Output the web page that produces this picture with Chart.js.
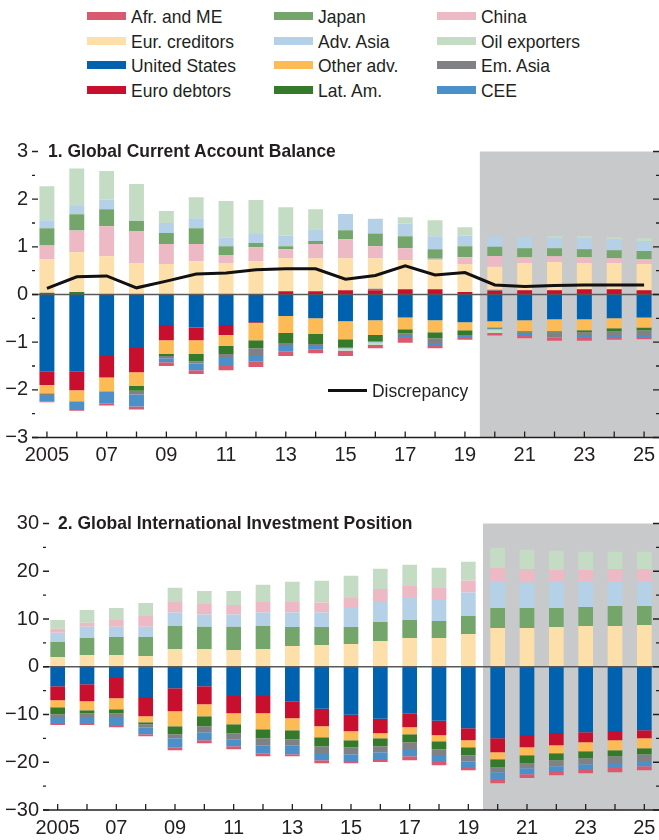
<!DOCTYPE html>
<html>
<head>
<meta charset="utf-8">
<script src="https://cdn.jsdelivr.net/npm/chart.js@4.4.1/dist/chart.umd.min.js"></script>
<style>
html, body { margin: 0; padding: 0; background: #fff; overflow: hidden; }
#page { position: relative; width: 659px; height: 840px; color: #231f20;
  font-family: "Liberation Sans", Arial, sans-serif; }
.item { position: absolute; z-index: 2; font-size: 19px; line-height: 22px; white-space: nowrap;
  transform: scaleX(0.92); transform-origin: 0 50%; }
.sw { position: absolute; z-index: 2; width: 39px; height: 8px; }
.title { position: absolute; z-index: 2; font-weight: bold; font-size: 19px; line-height: 22px; white-space: nowrap;
  transform: scaleX(0.92); transform-origin: 0 50%; }
canvas { position: absolute; left: 0; z-index: 1; }
</style>
</head>
<body>
<div id="page">
  <div id="legend"></div>
  <div class="title" style="left:48px; top:140px;">1. Global Current Account Balance</div>
  <div class="sw" style="left:328px; top:389px; width:39px; height:3px; background:#111;"></div>
  <div class="item" style="left:372px; top:380px;">Discrepancy</div>
  <div class="title" style="left:58px; top:512px;">2. Global International Investment Position</div>
  <canvas id="caChart" width="659" height="375" style="top:110px"></canvas>
  <canvas id="iipChart" width="659" height="355" style="top:485px"></canvas>
</div>
<script>
var years = ['2005','2006','2007','2008','2009','2010','2011','2012','2013','2014','2015',
             '2016','2017','2018','2019','2020','2021','2022','2023','2024','2025'];
var tickLabels = ['2005','','07','','09','','11','','13','','15','','17','','19','','21','','23','','25'];

var legendOrder = ['Afr. and ME','Japan','China',
                   'Eur. creditors','Adv. Asia','Oil exporters',
                   'United States','Other adv.','Em. Asia',
                   'Euro debtors','Lat. Am.','CEE'];

var colors = {
    'Afr. and ME': '#d95a6e',
    'Japan': '#74a56b',
    'China': '#ecb9c4',
    'Eur. creditors': '#fddfaa',
    'Adv. Asia': '#b5d1e8',
    'Oil exporters': '#c5dcc4',
    'United States': '#0061ae',
    'Other adv.': '#fdbb55',
    'Em. Asia': '#808184',
    'Euro debtors': '#c8102e',
    'Lat. Am.': '#357a2b',
    'CEE': '#4b90c8'
};

// 1. current account, percent of world GDP
var usCA        = [-1.61,-1.61,-1.29,-1.12,-0.64,-0.69,-0.64,-0.58,-0.45,-0.50,-0.56,-0.54,-0.48,-0.54,-0.58,-0.56,-0.54,-0.52,-0.52,-0.50,-0.48];
var euroDebtCA  = [-0.29,-0.40,-0.45,-0.51,-0.32,-0.27,-0.21,-0.02,0.07,0.07,0.09,0.09,0.11,0.11,0.05,0.08,0.09,0.09,0.11,0.11,0.09];
var otherAdvCA  = [-0.17,-0.23,-0.29,-0.29,-0.29,-0.29,-0.23,-0.36,-0.36,-0.33,-0.38,-0.31,-0.25,-0.25,-0.17,-0.13,-0.23,-0.25,-0.23,-0.21,-0.21];
var latAmCA     = [0.035,0.055,0,-0.10,-0.04,-0.15,-0.17,-0.17,-0.21,-0.21,-0.16,-0.13,-0.09,-0.13,-0.10,-0.02,-0.02,-0.02,-0.04,-0.06,-0.06];
var emAsiaCA    = [-0.04,0,0,-0.08,-0.05,-0.05,-0.06,-0.14,-0.06,-0.02,0,0.03,-0.05,-0.10,-0.02,0.02,-0.04,-0.11,-0.08,-0.10,-0.12];
var ceeCA       = [-0.13,-0.16,-0.26,-0.25,-0.08,-0.14,-0.19,-0.13,-0.11,-0.09,-0.03,-0.02,-0.04,-0.04,-0.02,-0.02,-0.04,-0.01,-0.04,-0.04,-0.02];
var eurCredCA   = [0.705,0.83,0.80,0.66,0.64,0.70,0.66,0.70,0.69,0.69,0.67,0.64,0.61,0.61,0.59,0.48,0.57,0.59,0.55,0.55,0.55];
var chinaCA     = [0.29,0.46,0.63,0.67,0.42,0.36,0.17,0.29,0.19,0.30,0.40,0.25,0.25,0.03,0.14,0.23,0.12,0.12,0.12,0.10,0.10];
var japanCA     = [0.36,0.34,0.36,0.21,0.23,0.33,0.18,0.09,0.06,0.06,0.19,0.27,0.25,0.20,0.23,0.19,0.19,0.17,0.17,0.17,0.17];
var advAsiaCA   = [0.17,0.17,0.20,0,0.21,0.21,0.18,0.19,0.23,0.25,0.34,0.31,0.27,0.27,0.23,0.21,0.23,0.21,0.23,0.23,0.21];
var oilCA       = [0.71,0.79,0.60,0.78,0.25,0.44,0.77,0.71,0.59,0.42,-0.05,-0.06,0.13,0.34,0.17,-0.08,0,0.04,0.04,0.04,0.06];
var afrMECA     = [-0.02,-0.04,-0.04,-0.06,-0.08,-0.08,-0.09,-0.12,-0.10,-0.08,-0.11,-0.07,-0.10,-0.07,-0.06,-0.05,-0.05,-0.06,-0.06,-0.04,-0.05];
var discrepancy = [0.13,0.37,0.39,0.14,0.28,0.43,0.45,0.52,0.54,0.54,0.32,0.40,0.60,0.41,0.46,0.20,0.17,0.19,0.20,0.20,0.20];

// 2. international investment position, percent of world GDP
var usIIP       = [-4.06,-3.64,-2.38,-6.36,-4.48,-4.06,-6.15,-6.15,-7.20,-8.81,-10.07,-10.91,-9.72,-11.33,-12.87,-14.97,-14.27,-13.85,-13.71,-13.43,-13.29];
var euroDebtIIP = [-2.94,-3.57,-4.20,-3.99,-4.83,-3.78,-3.57,-3.57,-3.57,-3.64,-3.43,-3.01,-2.94,-3.01,-2.52,-2.94,-2.59,-2.59,-2.10,-1.96,-1.68];
var otherAdvIIP = [-1.47,-1.89,-2.31,-1.26,-3.15,-2.52,-2.31,-3.36,-2.52,-2.31,-1.89,-1.05,-1.47,-1.26,-1.47,-1.47,-1.68,-1.68,-1.89,-2.10,-2.10];
var latAmIIP    = [-1.47,-0.63,-0.84,-0.42,-1.68,-2.10,-1.89,-1.89,-1.89,-1.89,-1.47,-1.68,-1.68,-1.68,-1.68,-1.68,-1.68,-1.47,-1.47,-1.26,-1.26];
var emAsiaIIP   = [-0.56,-0.77,-0.77,-0.63,-0.84,-1.26,-1.26,-1.47,-1.26,-1.40,-1.47,-1.26,-1.40,-1.19,-1.26,-1.05,-1.05,-1.26,-1.26,-1.40,-1.40];
var ceeIIP      = [-1.26,-1.26,-1.68,-1.47,-1.89,-1.68,-1.47,-1.68,-1.89,-1.54,-1.40,-1.40,-1.54,-1.26,-1.19,-1.40,-1.26,-0.98,-0.98,-0.84,-1.12];
var afrMEIIP    = [-0.42,-0.42,-0.49,-0.42,-0.63,-0.63,-0.63,-0.63,-0.42,-0.63,-0.49,-0.63,-0.84,-0.91,-0.70,-0.91,-0.77,-0.91,-0.91,-1.12,-0.84];
var eurCredIIP  = [2.03,2.45,2.45,2.24,3.71,3.71,3.50,3.71,4.34,4.55,4.76,5.38,6.01,6.01,6.85,8.11,8.11,8.32,8.53,8.53,8.74];
var japanIIP    = [3.15,3.57,3.78,3.99,4.83,4.69,4.90,4.83,3.99,3.78,3.57,3.99,3.78,3.57,3.78,4.20,4.20,3.99,3.99,4.20,3.99];
var advAsiaIIP  = [1.96,2.38,2.17,2.17,2.80,2.52,2.52,2.80,3.01,3.01,3.99,4.20,4.62,4.41,4.90,5.45,5.31,5.45,5.24,5.03,5.24];
var chinaIIP    = [0.84,0.84,1.40,2.24,2.24,2.24,2.03,2.24,2.24,2.10,2.10,2.73,2.52,2.52,2.52,2.94,2.87,2.52,2.52,2.73,2.52];
var oilIIP      = [1.82,2.66,2.52,2.73,2.94,2.73,2.94,3.57,4.20,4.55,4.62,4.20,4.41,4.20,3.92,4.20,3.99,3.99,3.78,3.57,3.57];

var FONT = '"Liberation Sans", Arial, sans-serif';

function buildLegend() {
    var colX = [87, 274, 437];
    var rowY = [16, 40.5, 65, 89.5];
    var box = document.getElementById('legend');
    legendOrder.forEach(function (name, i) {
        var c = i % 3, r = Math.floor(i / 3);
        var sw = document.createElement('div');
        sw.className = 'sw';
        sw.style.left = colX[c] + 'px';
        sw.style.top = (rowY[r] - 4) + 'px';
        sw.style.background = colors[name];
        box.appendChild(sw);
        var t = document.createElement('div');
        t.className = 'item';
        t.style.left = (colX[c] + 44) + 'px';
        t.style.top = (rowY[r] - 10) + 'px';
        t.textContent = name;
        box.appendChild(t);
    });
}

// shaded projection area, zero line, axis line and inward tick marks
var framePlugin = {
    id: 'frame',
    beforeDatasetsDraw: function (chart, args, o) {
        var ctx = chart.ctx, a = chart.chartArea, x = chart.scales.x;
        var x0 = (x.getPixelForTick(o.shadeFrom - 1) + x.getPixelForTick(o.shadeFrom)) / 2;
        ctx.save();
        ctx.fillStyle = '#c8c9cb';
        ctx.fillRect(x0, a.top, a.right - x0, a.bottom - a.top);
        ctx.restore();
    },
    afterDatasetsDraw: function (chart, args, o) {
        var ctx = chart.ctx, a = chart.chartArea, x = chart.scales.x, y = chart.scales.y;
        ctx.save();
        var y0 = y.getPixelForValue(0);
        ctx.strokeStyle = '#58595b';
        ctx.lineWidth = 1.5;
        ctx.beginPath(); ctx.moveTo(a.left, y0); ctx.lineTo(a.right, y0); ctx.stroke();

        ctx.strokeStyle = '#231f20';
        ctx.lineWidth = 1.5;
        ctx.beginPath(); ctx.moveTo(a.left, a.bottom); ctx.lineTo(a.right, a.bottom); ctx.stroke();

        ctx.lineWidth = 1.3;
        ctx.beginPath();
        for (var i = 0; i < years.length; i++) {
            var px = x.getPixelForTick(i);
            ctx.moveTo(px, a.bottom); ctx.lineTo(px, a.bottom - 6);
        }
        for (var v = y.min; v <= y.max + 1e-9; v += o.minor) {
            var major = Math.abs(Math.round(v / o.major) * o.major - v) < 1e-6;
            var len = major ? 6 : 3;
            var py = y.getPixelForValue(v);
            ctx.moveTo(a.left, py); ctx.lineTo(a.left + len, py);
            ctx.moveTo(a.right, py); ctx.lineTo(a.right - len, py);
        }
        ctx.stroke();
        ctx.restore();
    }
};

function makeChart(series, lim, step, axisW, xH, padTop) {
    var datasets = series.map(function (s) {
        return {
            type: 'bar',
            label: s[0],
            data: s[1],
            backgroundColor: colors[s[0]],
            borderWidth: 0,
            stack: 'all',
            order: 1,
            categoryPercentage: 0.5,
            barPercentage: 1
        };
    });
    return { datasets: datasets, options: {
        responsive: false,
        animation: false,
        devicePixelRatio: 1,
        layout: { padding: { top: padTop, right: 0, left: 0, bottom: 0 } },
        plugins: {
            legend: { display: false },
            tooltip: { enabled: false },
            frame: { shadeFrom: 15, major: step * 2, minor: step }
        },
        scales: {
            x: {
                stacked: true,
                grid: { display: false, drawTicks: false },
                border: { display: false },
                afterFit: function (s) { s.height = xH; s.paddingLeft = 0; s.paddingRight = 0; },
                ticks: {
                    autoSkip: false, maxRotation: 0, padding: 6, color: '#231f20',
                    font: { family: FONT, size: 20 },
                    callback: function (v, i) { return tickLabels[i]; }
                }
            },
            y: {
                stacked: true,
                min: -lim, max: lim,
                grid: { display: false, drawTicks: false },
                border: { display: false },
                afterFit: function (s) { s.width = axisW; },
                ticks: {
                    stepSize: step, padding: 4, color: '#231f20',
                    font: { family: FONT, size: 20 },
                    callback: function (v) {
                        if (Math.abs(Math.round(v / (step * 2)) * step * 2 - v) > 1e-6) return '';
                        return v < 0 ? '\u2212' + Math.abs(v) : String(v);
                    }
                }
            }
        }
    }};
}

function drawCurrentAccount() {
    var cfg = makeChart([
        ['United States', usCA], ['Euro debtors', euroDebtCA], ['Other adv.', otherAdvCA],
        ['Lat. Am.', latAmCA], ['Em. Asia', emAsiaCA], ['CEE', ceeCA],
        ['Eur. creditors', eurCredCA], ['China', chinaCA], ['Japan', japanCA],
        ['Adv. Asia', advAsiaCA], ['Oil exporters', oilCA], ['Afr. and ME', afrMECA]
    ], 3, 0.5, 32, 47.5, 41.5);
    cfg.datasets.push({
        type: 'line',
        label: 'Discrepancy',
        data: discrepancy,
        borderColor: '#111',
        borderWidth: 3,
        pointRadius: 0,
        tension: 0,
        stack: 'disc',
        order: 0
    });
    new Chart(document.getElementById('caChart').getContext('2d'), {
        type: 'bar',
        data: { labels: years, datasets: cfg.datasets },
        options: cfg.options,
        plugins: [framePlugin]
    });
}

function drawInvestmentPosition() {
    var cfg = makeChart([
        ['United States', usIIP], ['Euro debtors', euroDebtIIP], ['Other adv.', otherAdvIIP],
        ['Lat. Am.', latAmIIP], ['Em. Asia', emAsiaIIP], ['CEE', ceeIIP],
        ['Eur. creditors', eurCredIIP], ['Japan', japanIIP], ['Adv. Asia', advAsiaIIP],
        ['China', chinaIIP], ['Oil exporters', oilIIP], ['Afr. and ME', afrMEIIP]
    ], 30, 5, 43, 30, 38.5);
    new Chart(document.getElementById('iipChart').getContext('2d'), {
        type: 'bar',
        data: { labels: years, datasets: cfg.datasets },
        options: cfg.options,
        plugins: [framePlugin]
    });
}

buildLegend();
drawCurrentAccount();
drawInvestmentPosition();
</script>
</body>
</html>
